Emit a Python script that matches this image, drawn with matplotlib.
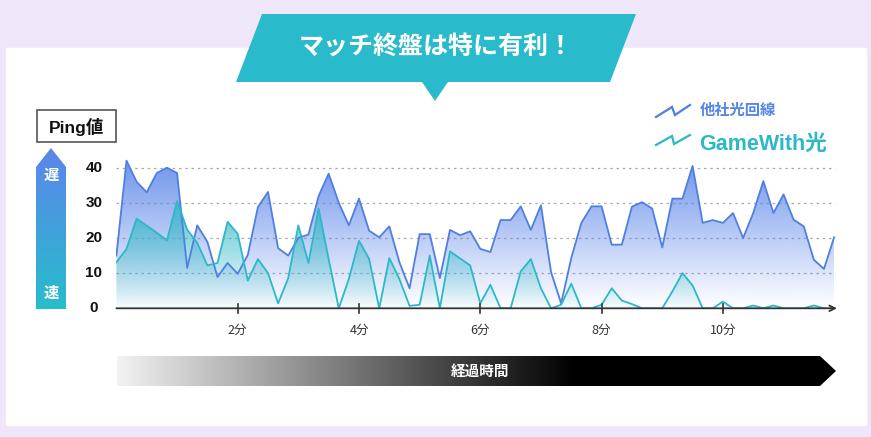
import numpy as np
import matplotlib
matplotlib.use('Agg')
import matplotlib.pyplot as plt
from matplotlib.patches import Polygon, Rectangle

plt.rcParams['font.family'] = ['Noto Sans CJK JP', 'DejaVu Sans']
LATIN = ['Liberation Sans', 'Noto Sans CJK JP', 'DejaVu Sans']

# one sample every 10 seconds
seconds = np.arange(72) * 10

other_ping = [15, 42, 36, 33, 38.5, 40, 38.5, 11.5, 23.6, 18.9,
              8.9, 12.9, 9.8, 15.2, 28.8, 33.1, 17.1, 15.0, 20.0, 21.0,
              31.9, 38.3, 30.0, 23.6, 31.2, 22.1, 20.2, 23.3, 13.1, 5.7,
              21.1, 21.1, 8.6, 22.3, 20.8, 21.9, 16.9, 16.0, 25.1, 25.1,
              29.0, 22.3, 29.3, 10.3, 1.4, 14.3, 24.3, 29.0, 29.0, 18.1,
              18.1, 28.9, 30.2, 28.4, 17.3, 31.2, 31.2, 40.5, 24.3, 25.1,
              24.3, 27.1, 20.0, 27.1, 36.2, 27.1, 32.4, 25.2, 23.3, 13.8,
              11.2, 20.2]

gamewith_ping = [13.1, 16.9, 25.5, 23.5, 21.5, 19.3, 30.5, 22.4, 18.6, 12.2,
                 12.9, 24.6, 21.2, 7.9, 14.0, 10.0, 1.4, 8.6, 23.6, 12.9,
                 28.4, 14.0, 0, 8.4, 19.2, 14.1, 0, 14.3, 8.3, 0.7,
                 1.0, 15.0, 0, 16.2, 14.2, 12.2, 1.4, 6.7, 0, 0,
                 10.5, 14.0, 5.7, 0, 1.0, 7.0, 0, 0, 1.0, 5.7,
                 2.2, 1.2, 0, 0, 0, 4.8, 10.0, 6.5, 0, 0,
                 1.9, 0, 0, 0.8, 0, 0.8, 0, 0, 0, 0.8,
                 0, 0]

y_ticks = [0, 10, 20, 30, 40]
x_ticks = [2, 4, 6, 8, 10]
x_tick_labels = ['2分', '4分', '6分', '8分', '10分']

title_text = 'マッチ終盤は特に有利！'
series_labels = ['他社光回線', 'GameWith光']

BLUE = '#4F7FE2'
TEAL = '#2DB8C7'
BANNER = '#29BBCB'

minutes = seconds / 60.0


def gradient_fill(ax, x, y, rgb, top, a_top, a_bot, z):
    poly = ax.fill_between(x, y, 0, color='none', lw=0)
    grad = np.zeros((200, 1, 4))
    grad[:, :, :3] = matplotlib.colors.to_rgb(rgb)
    grad[:, 0, 3] = np.linspace(a_bot, a_top, 200)
    im = ax.imshow(grad, aspect='auto', origin='lower',
                   extent=[x[0], x[-1], 0, top], zorder=z)
    im.set_clip_path(poly.get_paths()[0], transform=ax.transData)


fig = plt.figure(figsize=(8.71, 4.37), dpi=100)
fig.patch.set_facecolor('#EFE6F9')

# decoration layer in pixel coordinates
bg = fig.add_axes([0, 0, 1, 1])
bg.axis('off')
bg.add_patch(Rectangle((5.5, 48), 860, 377, color='white', zorder=0))

# speech banner
bg.add_patch(Polygon([(262, 14), (636, 14), (610, 82), (448, 82), (435, 101),
                      (422, 82), (236, 82)], closed=True, color=BANNER, lw=0, zorder=2))
bg.text(436, 47, title_text, color='white', fontsize=18, fontweight='bold',
        ha='center', va='center', zorder=3)

# Ping box
bg.add_patch(Rectangle((36.5, 110), 79, 32, facecolor='white', edgecolor='#555',
                       lw=1.2, zorder=2))
bg.text(76, 126.5, 'Ping値', fontsize=12.5, fontweight='bold', ha='center',
        va='center', color='#111', family=LATIN, zorder=3)

# slow / fast arrow
arr = Polygon([(36, 167), (51, 148), (66, 167), (66, 309), (36, 309)], closed=True,
              facecolor='none', edgecolor='none')
bg.add_patch(arr)
c_top = np.array(matplotlib.colors.to_rgb('#5C85EC'))
c_bot = np.array(matplotlib.colors.to_rgb('#27BDCA'))
tt = np.linspace(0, 1, 200)[:, None]
vgrad = (c_top * (1 - tt) + c_bot * tt)[:, None, :]
im = bg.imshow(vgrad, aspect='auto', origin='upper', extent=[36, 66, 309, 148], zorder=2)
im.set_clip_path(arr)
bg.text(51, 175, '遅', color='white', fontsize=11, fontweight='bold',
        ha='center', va='center', zorder=3)
bg.text(51, 293, '速', color='white', fontsize=11, fontweight='bold',
        ha='center', va='center', zorder=3)

# elapsed time bar
bar = Polygon([(117, 356), (820, 356), (836, 371), (820, 386), (117, 386)], closed=True,
              facecolor='none', edgecolor='none')
bg.add_patch(bar)
xs = np.linspace(117, 836, 400)
lev = np.clip((575 - xs) / (575 - 117), 0, 1) * 0.95
hgrad = np.repeat(lev[None, :, None], 3, axis=2)
im = bg.imshow(hgrad, aspect='auto', origin='upper', extent=[117, 836, 386, 356], zorder=2)
im.set_clip_path(bar)
bg.text(480, 371, '経過時間', color='white', fontsize=10.5, fontweight='bold',
        ha='center', va='center', zorder=3)

# legend
bg.plot([656, 672, 675, 690], [117, 107, 115, 105], color=BLUE, lw=1.6,
        solid_joinstyle='miter', zorder=3)
bg.text(700, 110, series_labels[0], color='#5585E5', fontsize=11, fontweight='bold',
        ha='left', va='center', zorder=3)
bg.plot([656, 672, 674, 690], [145, 136, 144, 135], color=TEAL, lw=1.6,
        solid_joinstyle='miter', zorder=3)
bg.text(699, 144, series_labels[1], color=TEAL, fontsize=15.5, fontweight='bold',
        ha='left', va='center', family=LATIN, zorder=3)

bg.set_xlim(0, 871)
bg.set_ylim(437, 0)

# chart
x0, y0 = 116.4, 308.3
px_min, px_unit = 60.65, 3.515
xmax, ymax = 12.0, 45.0
ax = fig.add_axes([x0 / 871, (437 - y0) / 437, xmax * px_min / 871, ymax * px_unit / 437])
ax.patch.set_alpha(0)
for s in ax.spines.values():
    s.set_visible(False)
ax.set_xticks([])
ax.set_yticks([])

for v in y_ticks[1:]:
    ax.plot([0, 11.85], [v, v], color='#aaaaaa', lw=0.9, ls=(0, (2, 3)), zorder=1)

gradient_fill(ax, minutes, other_ping, '#5C86EA', 42, 0.88, 0.0, 2)
gradient_fill(ax, minutes, gamewith_ping, '#2FB8C6', 31, 0.82, 0.04, 3)
ax.plot(minutes, other_ping, color=BLUE, lw=1.3, zorder=4)
ax.plot(minutes, gamewith_ping, color=TEAL, lw=1.3, zorder=5)

# axes with open arrow heads
ax.annotate('', xy=(0, 45.4), xytext=(0, 0),
            arrowprops=dict(arrowstyle='->', color='#333', lw=1.3,
                            shrinkA=0, shrinkB=0, mutation_scale=10), zorder=6)
ax.annotate('', xy=(11.88, 0), xytext=(0, 0),
            arrowprops=dict(arrowstyle='->', color='#333', lw=1.3,
                            shrinkA=0, shrinkB=0, mutation_scale=10), zorder=6)

for t, lab in zip(x_ticks, x_tick_labels):
    ax.plot([t, t], [-1.3, 1.3], color='#333', lw=1.2, clip_on=False, zorder=6)
    ax.text(t, -6.3, lab, fontsize=9, color='#333', ha='center', va='center')

for v in y_ticks:
    ax.text(-0.37, v, str(v), fontsize=11, fontweight='bold', color='#111',
            ha='center', va='center', family=LATIN)

ax.set_xlim(0, xmax)
ax.set_ylim(0, ymax)

fig.savefig('out.png', dpi=100, facecolor=fig.get_facecolor())
